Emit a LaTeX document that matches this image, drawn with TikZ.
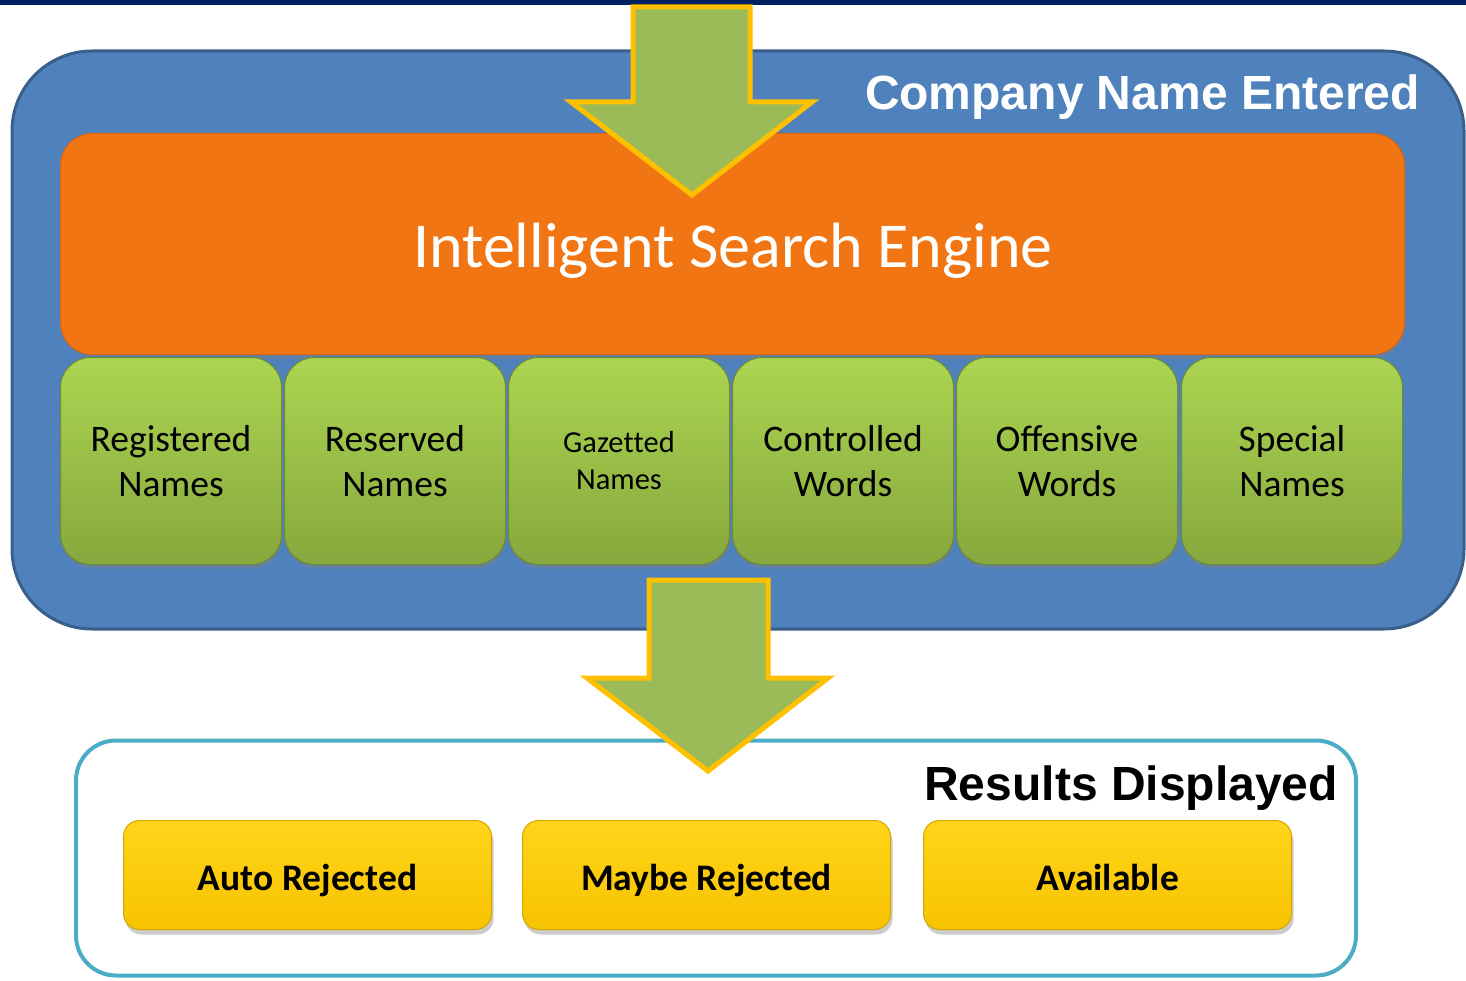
\documentclass[tikz,border=0pt]{standalone}
\usepackage{fontspec}
\setmainfont{Carlito}
\newfontfamily\arialfont{Liberation Sans}
\usetikzlibrary{shadows}
\definecolor{topbar}{HTML}{002060}
\definecolor{bluefill}{HTML}{4F81BD}
\definecolor{blueedge}{HTML}{3A5F8B}
\definecolor{orangefill}{HTML}{F27514}
\definecolor{orangeedge}{HTML}{D9650C}
\definecolor{grtop}{HTML}{ABD551}
\definecolor{grbot}{HTML}{87A83D}
\definecolor{gredge}{HTML}{6F8C2F}
\definecolor{yeltop}{HTML}{FFD41A}
\definecolor{yelbot}{HTML}{F7C300}
\definecolor{yeledge}{HTML}{D4A600}
\definecolor{arrowfill}{HTML}{9BBB59}
\definecolor{arrowedge}{HTML}{FFC000}
\definecolor{cyanedge}{HTML}{4BACC6}
\tikzset{
  outerbox/.style={rounded corners=80pt, draw=blueedge, line width=3pt, fill=bluefill,
    minimum width=1452pt, minimum height=578pt, inner sep=0pt},
  enginebox/.style={rounded corners=32pt, draw=orangeedge, line width=1pt, fill=orangefill,
    minimum width=1344pt, minimum height=221pt, inner sep=0pt,
    drop shadow={shadow xshift=1pt, shadow yshift=-4pt, opacity=0.35}},
  srcbox/.style={rounded corners=30pt, draw=gredge, line width=1pt, top color=grtop, bottom color=grbot,
    minimum width=221pt, minimum height=207pt, inner sep=0pt, align=center,
    font=\fontsize{37.5}{45}\selectfont, text=black,
    drop shadow={shadow xshift=1pt, shadow yshift=-4pt, opacity=0.4}},
  resultframe/.style={rounded corners=40pt, draw=cyanedge, line width=4pt, fill=white,
    minimum width=1280pt, minimum height=235pt, inner sep=0pt},
  resbox/.style={rounded corners=16pt, draw=yeledge, line width=1pt, top color=yeltop, bottom color=yelbot,
    minimum width=368pt, minimum height=109pt, inner sep=0pt, text height=30pt, text depth=0pt,
    font=\bfseries\fontsize{37.5}{44}\selectfont, text=black,
    drop shadow={shadow xshift=2pt, shadow yshift=-5pt, opacity=0.4}},
  bigarrow/.style={fill=arrowfill, draw=arrowedge, line width=5pt, line join=miter},
  headline/.style={font=\arialfont\bfseries\fontsize{48}{56}\selectfont, inner sep=0pt, anchor=base east}
}
\begin{document}
\begin{tikzpicture}[x=1pt,y=-1pt]
\useasboundingbox (0,0) rectangle (1466,981);
\fill[topbar] (0,0) rectangle (1466,5);
% outer blue region
\node[outerbox] (outer) at (738,340) {};
\node[headline, text=white] (title) at (1420,110) {Company Name Entered};
% engine
\node[enginebox] (engine) at (732.5,244) {};
\node[font=\fontsize{64}{70}\selectfont, text=white, anchor=base, inner sep=0pt] (enginelabel) at (733,268) {Intelligent Search Engine};
% sources
\node[srcbox] (reg) at (171,461) {Registered\\Names};
\node[srcbox] (res) at (395,461) {Reserved\\Names};
\node[srcbox, font=\fontsize{30.5}{37}\selectfont] (gaz) at (619,461) {Gazet\kern0pt ted\\Names};
\node[srcbox] (con) at (843,461) {Controlled\\Words};
\node[srcbox] (off) at (1067,461) {Offensive\\Words};
\node[srcbox] (spe) at (1292,461) {Special\\Names};
% input arrow
\draw[bigarrow] (633,7) -- (750,7) -- (750,102) -- (812,102) -- (692,195) -- (571,102) -- (633,102) -- cycle;
% results
\node[resultframe] (results) at (716,858) {};
\node[headline, text=black] (restitle) at (1338,800) {Results Displayed};
\node[resbox] (auto) at (307.5,875) {Auto Rejected};
\node[resbox] (maybe) at (706.5,875) {Maybe Rejected};
\node[resbox] (avail) at (1107.5,875) {Available};
% output arrow
\draw[bigarrow] (649,580) -- (768,580) -- (768,678) -- (828,678) -- (708,771) -- (587,678) -- (649,678) -- cycle;
\end{tikzpicture}
\end{document}
